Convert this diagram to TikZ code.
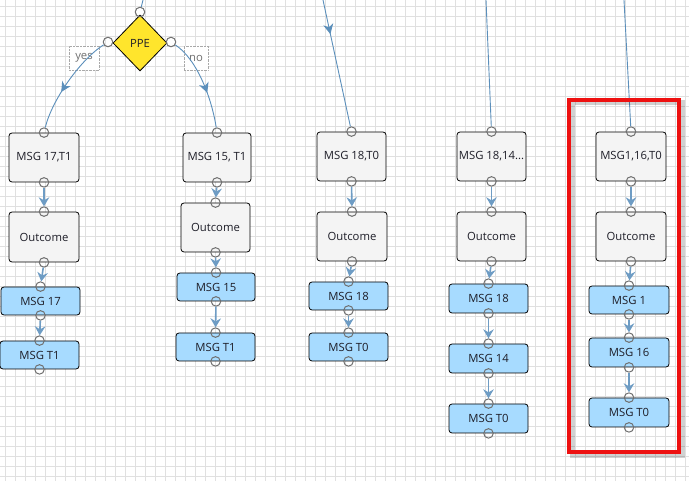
\documentclass[tikz,border=0pt]{standalone}
\usepackage{fontspec}
\setmainfont{Open Sans}
\usetikzlibrary{shapes.geometric,arrows.meta,decorations.markings}
\definecolor{gridc}{HTML}{E0E0E0}
\definecolor{flowc}{HTML}{5B8FBB}
\definecolor{flowl}{HTML}{6E9CC4}
\definecolor{boxg}{HTML}{F4F4F4}
\definecolor{boxb}{HTML}{A7DBFF}
\definecolor{portc}{HTML}{707070}
\definecolor{ppey}{HTML}{FFE52C}
\definecolor{framer}{HTML}{EE1111}
\definecolor{txt}{HTML}{1E1E28}
\begin{document}
\begin{tikzpicture}[x=1pt,y=-1pt,
  greybox/.style={draw=black, line width=0.8pt, rounded corners=3pt, fill=boxg, inner sep=0pt,
    font=\fontsize{11.3}{13}\selectfont, text=txt},
  bluebox/.style={greybox, fill=boxb},
  port/.style={circle, draw=portc, line width=1pt, minimum size=9.5pt, inner sep=0pt},
  flow/.style={draw=flowl, color=flowl, line width=1.6pt, -{Stealth[length=9pt,width=10.5pt,inset=3pt]}},
  thinflow/.style={draw=flowc, color=flowc, line width=0.9pt},
  midarrow/.style={decoration={markings, mark=at position #1 with {\arrow{Stealth[length=10pt,width=10pt,inset=3pt]}}}, postaction={decorate}},
  lbl/.style={draw=portc!60, densely dotted, fill=white, inner sep=0pt, text=portc,
    font=\fontsize{11.3}{13}\selectfont, minimum height=24pt},
  decision/.style={diamond, draw=black, fill=ppey, line width=0.8pt, inner sep=0pt,
    minimum width=54pt, minimum height=56pt, font=\fontsize{11.3}{13}\selectfont, text=txt}
]
\useasboundingbox (0,0) rectangle (689,481);
\fill[white] (0,0) rectangle (689,481);
% grid
\foreach \x in {5,15,...,685} \draw[gridc, line width=0.8pt] (\x,0) -- (\x,481);
\foreach \y in {6,16,...,476} \draw[gridc, line width=0.8pt] (0,\y) -- (689,\y);

% decision
\node[decision] (ppe) at (140,43) {PPE};
\node[lbl, minimum width=30pt] (yes) at (84,58) {yes};
\node[lbl, minimum width=24pt] (no) at (196,58) {no};

% column 1
\node[greybox, minimum width=70pt, minimum height=49pt] (g1) at (44,157.5) {MSG 17,T1};
\node[greybox, minimum width=70pt, minimum height=50pt] (o1) at (44,237) {Outcome};
\node[bluebox, minimum width=79pt, minimum height=28pt] (b1a) at (40.5,301) {MSG 17};
\node[bluebox, minimum width=79pt, minimum height=28pt] (b1b) at (39.5,355) {MSG T1};
% column 2
\node[greybox, minimum width=68pt, minimum height=49pt] (g2) at (217,157.5) {MSG 15, T1};
\node[greybox, minimum width=69pt, minimum height=49pt] (o2) at (215.5,227.5) {Outcome};
\node[bluebox, minimum width=78pt, minimum height=28pt] (b2a) at (216,287) {MSG 15};
\node[bluebox, minimum width=79pt, minimum height=28pt] (b2b) at (215.5,347) {MSG T1};
% column 3
\node[greybox, minimum width=69pt, minimum height=49pt] (g3) at (351.5,156.5) {MSG 18,T0};
\node[greybox, minimum width=70pt, minimum height=49pt] (o3) at (352,236.5) {Outcome};
\node[bluebox, minimum width=79pt, minimum height=28pt] (b3a) at (348.5,296) {MSG 18};
\node[bluebox, minimum width=79pt, minimum height=28pt] (b3b) at (348.5,347) {MSG T0};
% column 4
\node[greybox, minimum width=69pt, minimum height=49pt] (g4) at (491.5,156.5) {MSG 18,14...};
\node[greybox, minimum width=69pt, minimum height=49pt] (o4) at (491.5,236.5) {Outcome};
\node[bluebox, minimum width=79pt, minimum height=29pt] (b4a) at (488.5,298.5) {MSG 18};
\node[bluebox, minimum width=79pt, minimum height=29pt] (b4b) at (488.5,358.5) {MSG 14};
\node[bluebox, minimum width=79pt, minimum height=29pt] (b4c) at (488.5,418.5) {MSG T0};
% column 5
\node[greybox, minimum width=70pt, minimum height=49pt] (g5) at (631,156.5) {MSG1,16,T0};
\node[greybox, minimum width=70pt, minimum height=49pt] (o5) at (631,236.5) {Outcome};
\node[bluebox, minimum width=80pt, minimum height=28pt] (b5a) at (629,300) {MSG 1};
\node[bluebox, minimum width=80pt, minimum height=29pt] (b5b) at (629,352.5) {MSG 16};
\node[bluebox, minimum width=80pt, minimum height=29pt] (b5c) at (629,412.5) {MSG T0};

% ports
\node[port] (ppet) at (140,12) {};
\node[port] (ppel) at (108,42) {};
\node[port] (pper) at (171,42) {};
\foreach \n in {g1,o1,b1a,b1b,g2,o2,b2a,b2b,g3,o3,b3a,b3b,g4,o4,b4a,b4b,b4c,g5,o5,b5a,b5b,b5c}{
  \node[port] (\n t) at (\n.north) {};
  \node[port] (\n b) at (\n.south) {};
}

% free ends at top
\coordinate (in0) at (143,0);
\coordinate (in3) at (323,0);
\coordinate (in4) at (486,0);
\coordinate (in5) at (624,0);

% connectors
\draw[thinflow] (in0) -- (ppet);
\draw[thinflow, midarrow=0.27] (in3) -- (g3t);
\draw[thinflow] (in4) -- (g4t);
\draw[thinflow] (in5) -- (g5t);
\draw[thinflow, midarrow=0.62] (ppel) .. controls (80,60) and (52,100) .. (g1t);
\draw[thinflow, midarrow=0.62] (pper) .. controls (198,60) and (212,100) .. (g2t);

\draw[flow] (g1b) -- (o1t);
\draw[flow] (o1b) -- (b1at);
\draw[flow] (b1ab) -- (b1bt);
\draw[flow] (g2b) -- (o2t);
\draw[flow] (o2b) -- (b2at);
\draw[flow] (b2ab) -- (b2bt);
\draw[flow] (g3b) -- (o3t);
\draw[flow] (o3b) -- (b3at);
\draw[flow] (b3ab) -- (b3bt);
\draw[flow] (g4b) -- (o4t);
\draw[flow] (o4b) -- (b4at);
\draw[flow] (b4ab) -- (b4bt);
\draw[flow] (b4bb) -- (b4ct);
\draw[flow] (g5b) -- (o5t);
\draw[flow] (o5b) -- (b5at);
\draw[flow] (b5ab) -- (b5bt);
\draw[flow] (b5bb) -- (b5ct);

% highlight frame
\draw[black, opacity=0.18, line width=5pt] (572,103) rectangle (682,455);
\draw[framer, line width=4pt] (569,100) rectangle (679,452);
\end{tikzpicture}
\end{document}
